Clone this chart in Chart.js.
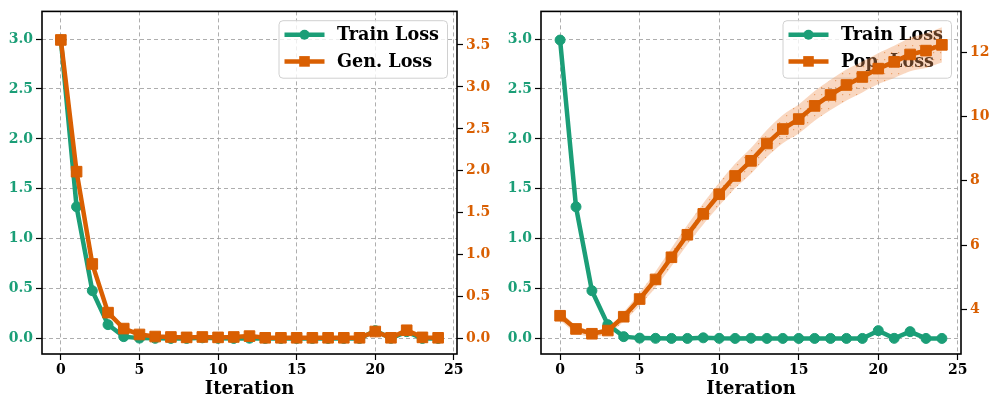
<!DOCTYPE html>
<html>
<head>
<meta charset="utf-8">
<script src="https://cdn.jsdelivr.net/npm/chart.js@4.4.0/dist/chart.umd.min.js"></script>
<style>
  html, body { margin: 0; padding: 0; background: #fff; }
  #wrap { width: 992px; height: 402px; display: flex; }
  .panel { width: 496px; height: 402px; position: relative; }
</style>
</head>
<body>
<div id="wrap">
  <div class="panel"><canvas id="left"></canvas></div>
  <div class="panel"><canvas id="right"></canvas></div>
</div>
<script>
const iterations = Array.from({ length: 25 }, (_, i) => i);

const trainLoss = [2.99, 1.32, 0.48, 0.14, 0.02, 0.005, 0.003, 0.002, 0.002, 0.008, 0.003, 0.002, 0.004, 0.002, 0.002,
    0.002, 0.002, 0.002, 0.002, 0.002, 0.08, 0.003, 0.07, 0.002, 0.002];
const genLoss = [3.56, 1.99, 0.89, 0.31, 0.12, 0.05, 0.025, 0.02, 0.015, 0.02, 0.015, 0.02, 0.03, 0.01, 0.01,
    0.01, 0.01, 0.01, 0.01, 0.01, 0.085, 0.01, 0.1, 0.015, 0.01];
const popLoss = [3.80, 3.39, 3.24, 3.34, 3.77, 4.32, 4.93, 5.62, 6.32, 6.97, 7.58, 8.15, 8.62, 9.16, 9.61,
    9.92, 10.33, 10.67, 10.98, 11.23, 11.49, 11.70, 11.93, 12.05, 12.23];
const popStd = [0.15, 0.12, 0.1, 0.1, 0.15, 0.2, 0.25, 0.28, 0.3, 0.33, 0.36, 0.38, 0.4, 0.42, 0.44,
    0.45, 0.46, 0.47, 0.48, 0.48, 0.48, 0.5, 0.52, 0.54, 0.55];

const leftTicks = [0, 0.5, 1.0, 1.5, 2.0, 2.5, 3.0];
const genTicks = [0, 0.5, 1.0, 1.5, 2.0, 2.5, 3.0, 3.5];
const popTicks = [4, 6, 8, 10, 12];
const xTicks = [0, 5, 10, 15, 20, 25];

const TEAL = '#1b9e77';
const ORANGE = '#d95f02';
const FONT = "'DejaVu Serif', serif";

function dotPattern() {
    const c = document.createElement('canvas');
    c.width = 7; c.height = 7;
    const g = c.getContext('2d');
    g.fillStyle = 'rgba(240, 150, 90, 0.38)';
    g.fillRect(0, 0, 7, 7);
    g.fillStyle = 'rgba(217, 95, 2, 0.45)';
    g.fillRect(3, 3, 1.2, 1.2);
    return g.createPattern(c, 'repeat');
}

// legend + frame drawn by hand, legend sits under the lines like the twin axis does
const frameLegend = {
    id: 'frameLegend',
    beforeDatasetsDraw(chart, args, opts) {
        const { ctx, chartArea } = chart;
        const w = 168.5, h = 57.5;
        const bx = chartArea.right - 9.5 - w;
        const by = chartArea.top + 9.3;
        ctx.save();
        ctx.beginPath();
        ctx.roundRect(bx, by, w, h, 4);
        ctx.fillStyle = 'rgba(255,255,255,0.8)';
        ctx.fill();
        ctx.strokeStyle = '#d0d0d0';
        ctx.lineWidth = 1;
        ctx.stroke();
        opts.items.forEach((it, i) => {
            const y = by + 14 + i * 26.7;
            ctx.strokeStyle = it.color;
            ctx.lineWidth = 4.5;
            ctx.beginPath();
            ctx.moveTo(bx + 5.5, y);
            ctx.lineTo(bx + 45.5, y);
            ctx.stroke();
            ctx.fillStyle = it.color;
            if (it.marker === 'circle') {
                ctx.beginPath();
                ctx.arc(bx + 25.5, y, 5, 0, Math.PI * 2);
                ctx.fill();
            } else {
                ctx.fillRect(bx + 25.5 - 5.3, y - 5.3, 10.6, 10.6);
            }
            ctx.fillStyle = '#000';
            ctx.font = "bold 17.6px " + FONT;
            ctx.textBaseline = 'middle';
            ctx.fillText(it.label, bx + 58, y + 1);
        });
        ctx.restore();
    },
    afterDraw(chart) {
        const { ctx, chartArea } = chart;
        ctx.save();
        ctx.strokeStyle = '#000';
        ctx.lineWidth = 1.6;
        ctx.strokeRect(chartArea.left, chartArea.top, chartArea.right - chartArea.left, chartArea.bottom - chartArea.top);
        ctx.restore();
    }
};

function fixedTicks(list) {
    return function (scale) {
        scale.ticks = list.map(v => ({ value: v }));
    };
}

function lineSet(label, data, color, style, radius, axis, order) {
    return {
        label: label,
        data: data,
        borderColor: color,
        backgroundColor: color,
        borderWidth: 4.5,
        pointStyle: style,
        pointRadius: radius,
        pointBorderWidth: 1,
        pointBorderColor: color,
        pointBackgroundColor: color,
        tension: 0,
        fill: false,
        yAxisID: axis,
        order: order
    };
}

function makeChart(id, cfg) {
    const gridDash = { color: 'rgba(160,160,160,0.85)', lineWidth: 1,
        tickColor: '#000', tickLength: 6, tickWidth: 1.2, tickBorderDash: [] };
    const dashBorder = { display: false, dash: [4, 3] };
    return new Chart(document.getElementById(id), {
        type: 'line',
        data: { labels: iterations, datasets: cfg.datasets },
        options: {
            responsive: true,
            maintainAspectRatio: false,
            animation: false,
            layout: { padding: { top: 4, left: 0, right: 0, bottom: 0 } },
            plugins: {
                legend: { display: false },
                tooltip: { enabled: false },
                frameLegend: { items: cfg.legend }
            },
            scales: {
                x: {
                    type: 'linear',
                    min: -1.2, max: 25.2,
                    afterBuildTicks: fixedTicks(xTicks),
                    afterFit: s => { s.height = 48; },
                    grid: gridDash,
                    border: dashBorder,
                    ticks: { color: '#000', padding: 2, font: { family: FONT, weight: 'bold', size: 14 } },
                    title: { display: true, text: 'Iteration', color: '#000', padding: { top: 0, bottom: 2 },
                        font: { family: FONT, weight: 'bold', size: 18 } }
                },
                y: {
                    position: 'left',
                    min: -0.154, max: 3.277,
                    afterBuildTicks: fixedTicks(leftTicks),
                    afterFit: s => { s.width = cfg.leftWidth; },
                    grid: gridDash,
                    border: dashBorder,
                    ticks: { color: TEAL, padding: 3, callback: v => v.toFixed(1),
                        font: { family: FONT, weight: 'bold', size: 14 } }
                },
                y1: {
                    position: 'right',
                    min: cfg.rMin, max: cfg.rMax,
                    afterBuildTicks: fixedTicks(cfg.rTicks),
                    afterFit: s => { s.width = cfg.rightWidth; },
                    grid: { drawOnChartArea: false, tickColor: '#000', tickLength: 6, tickWidth: 1.2 },
                    border: { display: false },
                    ticks: { color: ORANGE, padding: 3, callback: cfg.rFormat,
                        font: { family: FONT, weight: 'bold', size: 14 } }
                }
            }
        },
        plugins: [frameLegend]
    });
}

makeChart('left', {
    leftWidth: 42, rightWidth: 39,
    rMin: -0.183, rMax: 3.9, rTicks: genTicks, rFormat: v => v.toFixed(1),
    legend: [
        { label: 'Train Loss', color: TEAL, marker: 'circle' },
        { label: 'Gen. Loss', color: ORANGE, marker: 'rect' }
    ],
    datasets: [
        lineSet('Train Loss', trainLoss, TEAL, 'circle', 5, 'y', 2),
        lineSet('Gen. Loss', genLoss, ORANGE, 'rect', 7.5, 'y1', 1)
    ]
});

const band = dotPattern();
makeChart('right', {
    leftWidth: 45, rightWidth: 31,
    rMin: 2.61, rMax: 13.27, rTicks: popTicks, rFormat: v => String(v),
    legend: [
        { label: 'Train Loss', color: TEAL, marker: 'circle' },
        { label: 'Pop. Loss', color: ORANGE, marker: 'rect' }
    ],
    datasets: [
        lineSet('Train Loss', trainLoss, TEAL, 'circle', 5, 'y', 2),
        lineSet('Pop. Loss', popLoss, ORANGE, 'rect', 7.5, 'y1', 1),
        { label: 'upper', data: popLoss.map((v, i) => v + popStd[i]), yAxisID: 'y1', borderWidth: 0,
            pointRadius: 0, fill: '+1', backgroundColor: band, order: 3, tension: 0.3 },
        { label: 'lower', data: popLoss.map((v, i) => v - popStd[i]), yAxisID: 'y1', borderWidth: 0,
            pointRadius: 0, fill: false, order: 4, tension: 0.3 }
    ]
});
</script>
</body>
</html>
